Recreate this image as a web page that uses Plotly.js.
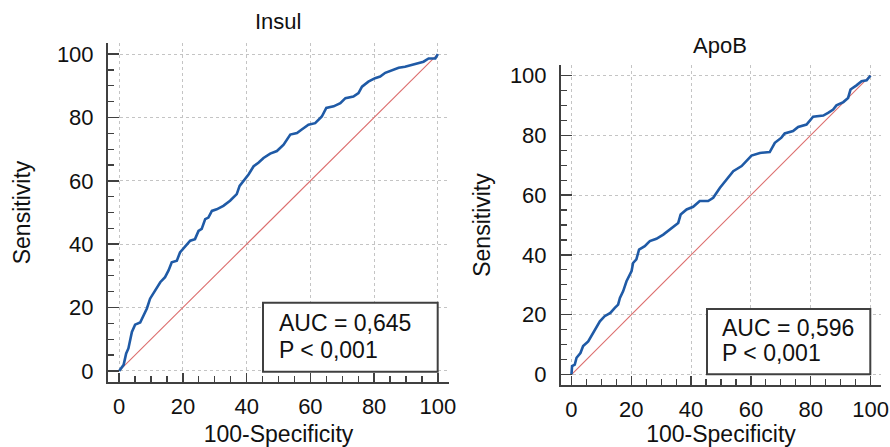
<!DOCTYPE html>
<html>
<head>
<meta charset="utf-8">
<script src="https://cdn.plot.ly/plotly-3.0.1.min.js"></script>
<style>html,body{margin:0;padding:0;background:#fff;}#chart{width:890px;height:447px;}</style>
</head>
<body>
<div id="chart"></div>
<script>
// Insul ROC curve (100-Specificity, Sensitivity)
var insulX = [0, 1.4, 2.2, 2.9, 4, 5, 6.6, 7.6, 8.7, 9.7, 11.3, 12.9, 14.4, 15.5, 16.5, 18.1, 19.1, 20.5, 22.3, 23.8, 24.9, 25.9, 27, 28, 29.1, 30.6, 32.7, 34.8, 36.9, 37.8, 39.5, 40.6, 42.2, 43.7, 45.3, 47.4, 49.5, 51.6, 53.7, 55.8, 57.3, 59.4, 61.5, 63.6, 65, 67.3, 69.4, 71, 73.5, 75.1, 76.2, 78.2, 80.3, 81.9, 83.5, 85.6, 87.7, 89.7, 92.4, 95.5, 97.1, 99.2, 100];
var insulY = [0, 1.9, 5.5, 7.1, 12.3, 14.6, 15.3, 17.6, 19.7, 22.8, 25.4, 28, 29.6, 31.7, 34.3, 34.8, 37.4, 39, 41.1, 41.6, 44.2, 44.8, 47.9, 48.4, 50.5, 51, 52.1, 53.7, 55.8, 58.4, 60.5, 62, 64.6, 65.7, 67.2, 68.6, 69.4, 71.4, 74.6, 75.1, 76.2, 77.7, 78.2, 80.3, 83, 83.5, 84.5, 86.1, 86.6, 87.7, 89.7, 91.3, 92.4, 92.9, 94.1, 95, 95.7, 96, 96.8, 97.6, 98.6, 98.6, 100];

// ApoB ROC curve
var apobX = [0, 0.2, 1.1, 1.7, 3, 3.9, 5.6, 7, 8.4, 9.5, 11.1, 13, 14.5, 15.6, 16.2, 17.3, 18.4, 20.1, 20.6, 21.7, 22.6, 24.5, 26.2, 28.4, 30.7, 32.9, 35.7, 36.5, 38.5, 40.7, 42.9, 45.7, 47.4, 49.6, 51.8, 54.1, 56.9, 60.2, 63, 66.3, 68, 70.2, 71.3, 74.1, 75.8, 78.6, 80.8, 84.2, 85.8, 87.5, 88.6, 90.9, 92.5, 93.3, 95.3, 97, 98.7, 100];
var apobY = [0, 2.8, 3.3, 5.6, 7.2, 9.5, 11.1, 13.4, 15.6, 17.8, 19.5, 20.6, 22.3, 23.4, 25.6, 27.9, 31.2, 34.6, 37.3, 38.5, 41.8, 42.9, 44.6, 45.4, 46.8, 48.5, 50.7, 53.5, 55.2, 56.1, 58, 58, 59.1, 62.4, 65.2, 68, 69.7, 73.2, 74.1, 74.4, 77.5, 79.2, 80.6, 81.4, 82.8, 83.6, 86.2, 86.6, 87.5, 88.6, 90, 91.1, 92.5, 95.3, 96.7, 98.1, 98.4, 100];

// Reference (chance) diagonal
var diagX = [0, 50, 100];
var diagY = [0, 50, 100];

var panelTitles = ["Insul", "ApoB"];
var aucLines = ["AUC = 0,645", "AUC = 0,596"];
var pLines = ["P &lt; 0,001", "P &lt; 0,001"];
var xTitle = "100-Specificity";
var yTitle = "Sensitivity";
var tickVals = [0, 20, 40, 60, 80, 100];

var blue = "#1f5aa6";
var diagColor = "rgb(220,110,110)";
var FONT = "Liberation Sans, Arial, sans-serif";

var traces = [
  {x: diagX, y: diagY, xaxis: "x", yaxis: "y", type: "scatter", mode: "lines", line: {color: diagColor, width: 1.1}, hoverinfo: "skip"},
  {x: insulX, y: insulY, xaxis: "x", yaxis: "y", type: "scatter", mode: "lines", line: {color: blue, width: 2.6}},
  {x: diagX, y: diagY, xaxis: "x2", yaxis: "y2", type: "scatter", mode: "lines", line: {color: diagColor, width: 1.1}, hoverinfo: "skip"},
  {x: apobX, y: apobY, xaxis: "x2", yaxis: "y2", type: "scatter", mode: "lines", line: {color: blue, width: 2.6}}
];

function axis(domain, anchor, isX, standoff) {
  return {
    domain: domain, anchor: anchor, range: [-3.5, 103.5],
    tickvals: tickVals, ticks: "inside", ticklen: isX ? 9 : 11, tickwidth: 1.5, tickcolor: "#404040",
    minor: {dtick: 5, tick0: 0, ticks: "inside", ticklen: 6, tickwidth: 1.2, tickcolor: "#404040", showgrid: false},
    showgrid: true, gridcolor: "#c4c4c4", griddash: "dot", gridwidth: 1,
    showline: true, linecolor: "#404040", linewidth: 2, mirror: false,
    zeroline: false, automargin: false,
    tickfont: {family: FONT, size: 22, color: "#111"},
    ticklabelstandoff: isX ? 4 : 8,
    title: {text: isX ? xTitle : yTitle, font: {family: FONT, size: 23, color: "#111"}, standoff: standoff}
  };
}

var layout = {
  width: 890, height: 447,
  margin: {l: 0, r: 0, t: 0, b: 0},
  paper_bgcolor: "#fff", plot_bgcolor: "#fff",
  showlegend: false,
  xaxis: axis([108/890, 449/890], "y", true, 8),
  yaxis: axis([65/447, 404/447], "x", false, 20),
  xaxis2: axis([561/890, 881/890], "y2", true, 8),
  yaxis2: axis([62/447, 382/447], "x2", false, 13),
  shapes: [
    {type: "rect", xref: "paper", yref: "paper", x0: 263/890, x1: 437.7/890, y0: (447-371.7)/447, y1: (447-302.7)/447, line: {color: "#404040", width: 2}, fillcolor: "#fff", layer: "above"},
    {type: "rect", xref: "paper", yref: "paper", x0: 707/890, x1: 870.3/890, y0: (447-374.3)/447, y1: (447-309)/447, line: {color: "#404040", width: 2}, fillcolor: "#fff", layer: "above"}
  ],
  annotations: [
    {text: panelTitles[0], xref: "paper", yref: "paper", x: 278/890, y: (447-22)/447, xanchor: "center", yanchor: "middle", showarrow: false, font: {family: FONT, size: 22, color: "#111"}},
    {text: panelTitles[1], xref: "paper", yref: "paper", x: 720/890, y: (447-45.5)/447, xanchor: "center", yanchor: "middle", showarrow: false, font: {family: FONT, size: 22, color: "#111"}},
    {text: aucLines[0], xref: "paper", yref: "paper", x: 277/890, y: (447-323)/447, xanchor: "left", yanchor: "middle", showarrow: false, font: {family: FONT, size: 23, color: "#111"}},
    {text: pLines[0], xref: "paper", yref: "paper", x: 277/890, y: (447-350)/447, xanchor: "left", yanchor: "middle", showarrow: false, font: {family: FONT, size: 23, color: "#111"}},
    {text: aucLines[1], xref: "paper", yref: "paper", x: 720/890, y: (447-327.7)/447, xanchor: "left", yanchor: "middle", showarrow: false, font: {family: FONT, size: 23, color: "#111"}},
    {text: pLines[1], xref: "paper", yref: "paper", x: 720/890, y: (447-353)/447, xanchor: "left", yanchor: "middle", showarrow: false, font: {family: FONT, size: 23, color: "#111"}}
  ]
};

Plotly.newPlot("chart", traces, layout, {displayModeBar: false, staticPlot: true});
</script>
</body>
</html>
